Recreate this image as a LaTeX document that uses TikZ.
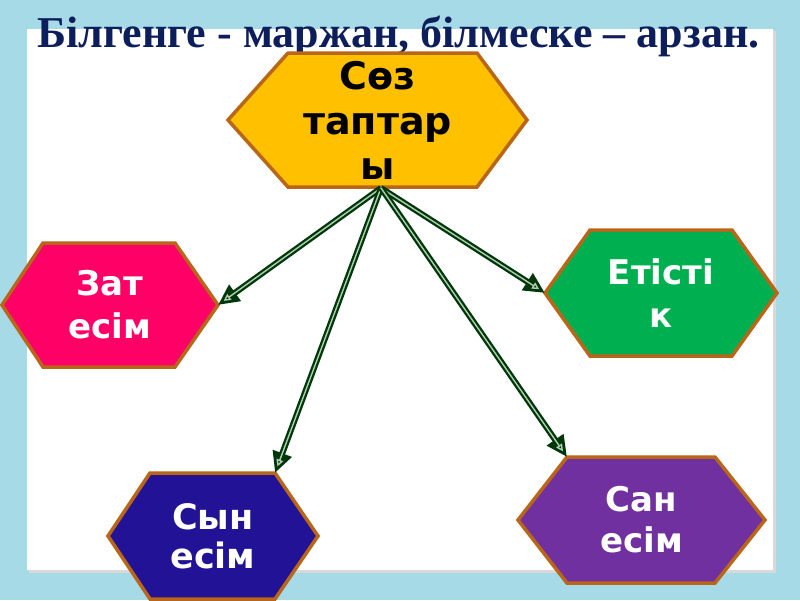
\documentclass[tikz,border=0pt]{standalone}
\usepackage{fontspec}
\setmainfont{Liberation Serif}
\newfontfamily\hexfont{DejaVu Sans}
\usetikzlibrary{arrows.meta}
\definecolor{bgblue}{RGB}{165,218,230}
\definecolor{titleblue}{RGB}{12,30,92}
\definecolor{hexborder}{RGB}{185,102,24}
\definecolor{gold}{RGB}{255,192,0}
\definecolor{pinkred}{RGB}{255,0,102}
\definecolor{leafgreen}{RGB}{0,176,80}
\definecolor{deepblue}{RGB}{34,18,150}
\definecolor{violet}{RGB}{112,48,160}
\definecolor{arrowdark}{RGB}{0,55,10}
\definecolor{arrowlight}{RGB}{175,205,175}
\tikzset{
  hexline/.style={draw=hexborder, line width=3.5pt, line join=miter},
  hextext/.style={text=white, align=center, inner sep=0pt,
    font=\hexfont\bfseries\fontsize{34}{43}\selectfont},
  conn/.style={draw=arrowdark, line width=6pt, -{Triangle[length=21pt,width=19pt]}},
  conninner/.style={draw=arrowlight, line width=1.4pt, shorten >=7pt,
    -{Triangle[open,length=7pt,width=7pt]}},
  top fill/.style={fill=gold},
  top text/.style={text=black, font=\hexfont\bfseries\fontsize{38}{45}\selectfont},
  zat fill/.style={fill=pinkred},
  zat text/.style={},
  etis fill/.style={fill=leafgreen},
  etis text/.style={},
  syn fill/.style={fill=deepblue},
  syn text/.style={font=\hexfont\bfseries\fontsize{35}{39}\selectfont},
  san fill/.style={fill=violet},
  san text/.style={font=\hexfont\bfseries\fontsize{34}{41}\selectfont},
}
% name, x left tip, x left corner, x right corner, x right tip, y top, y bottom, text
\newcommand\hexagonbox[8]{%
  \draw[hexline, #1 fill] (#2,{(#6+#7)/2}) -- (#3,#6) -- (#4,#6) -- (#5,{(#6+#7)/2})
     -- (#4,#7) -- (#3,#7) -- cycle;
  \coordinate (#1-l) at (#2,{(#6+#7)/2});
  \coordinate (#1-r) at (#5,{(#6+#7)/2});
  \coordinate (#1-tl) at (#3,#6);
  \coordinate (#1-tr) at (#4,#6);
  \node[hextext, #1 text] (#1) at ({(#2+#5)/2},{(#6+#7)/2}) {#8};
}
\begin{document}
\begin{tikzpicture}[x=1pt,y=-1pt]
\useasboundingbox (0,0) rectangle (800,600);
\fill[bgblue] (0,0) rectangle (800,600);
% white panel with soft shadow
\fill[black!15] (29,31) rectangle (776,573);
\fill[white] (27,29) rectangle (773,570);
% title
\node[anchor=base west, inner sep=0pt, text=titleblue,
      font=\bfseries\fontsize{44}{50}\selectfont] (title) at (37,47)
  {Білгенге - маржан, білмеске – арзан.};
% hexagons
\hexagonbox{top}{228}{288}{477}{527}{53}{187}{Сөз\\таптар\\ы}
\hexagonbox{zat}{2}{43}{175}{218}{243}{367}{Зат\\есім}
\hexagonbox{etis}{545}{590}{732}{777}{230}{356}{Етісті\\к}
\hexagonbox{syn}{108}{150}{275}{318}{473}{599}{Сын\\есім}
\hexagonbox{san}{518}{567}{715}{765}{457}{583}{Сан\\есім}
% connectors
\coordinate (src) at (381,188);
\foreach \t in {zat-r, etis-l, syn-tr, san-tl}{
  \draw[conn] (src) -- (\t);
  \draw[conninner] (src) -- (\t);
}
\end{tikzpicture}
\end{document}
